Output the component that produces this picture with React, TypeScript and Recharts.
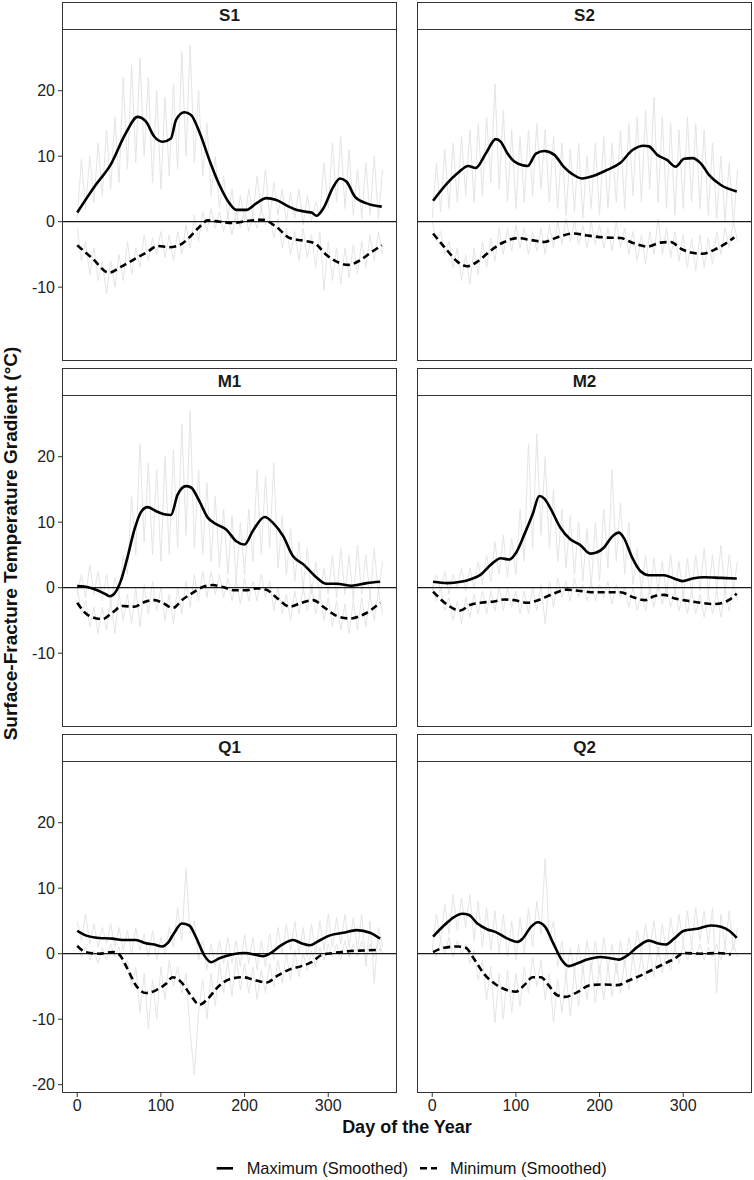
import React from 'react';
import { LineChart, Line, XAxis, YAxis, ReferenceLine } from 'recharts';

// raw daily gradients, read every 5 days off the figure
const rawDays = [
  0, 5, 10, 15, 20, 25, 30, 35, 40, 45, 50, 55, 60, 65, 70, 75, 80, 85, 90, 95,
  100, 105, 110, 115, 120, 125, 130, 135, 140, 145, 150, 155, 160, 165, 170, 175, 180, 185, 190, 195,
  200, 205, 210, 215, 220, 225, 230, 235, 240, 245, 250, 255, 260, 265, 270, 275, 280, 285, 290, 295,
  300, 305, 310, 315, 320, 325, 330, 335, 340, 345, 350, 355, 360, 365,
];

const s1RawMax = [
  0.5, 9.5, 2, 10, 3, 12, 4, 14, 5, 16, 6, 22, 8, 24, 9, 25, 10, 22, 6, 20,
  5, 19, 7, 21, 8, 26, 10, 27, 9, 20, 7, 15, 4, 10, 2, 7, 0.5, 5, -0.5, 4,
  0, 5, 1, 7, 1.5, 8, 0.5, 6, 1, 5, 0, 4.5, 0.5, 5, -0.5, 4, 0, 3, 1, 9,
  2, 12, 3, 13, 2, 11, 1, 8, 0.5, 9, 1, 10, 0.5, 8,
];
const s1RawMin = [
  -1, -6, -3, -8, -4, -9, -6, -11, -6, -10, -5, -9, -3, -8, -4, -7, -2, -6, -2.5, -5,
  -1.5, -5.5, -2, -6, -1.5, -5, -0.5, -4, 1, -3, 1.5, -1.5, 2, -1, 1.5, -1.5, 1, -2, 1.5, -1,
  2, -1.5, 1, -1, 2, -0.5, 1, -2.5, 0.5, -4, -1, -5, -1.5, -6, -1, -5.5, -2, -7, -1.5, -10.5,
  -3, -9, -4, -9.5, -4, -8.5, -3.5, -8, -3, -7, -2, -6, -1.5, -5,
];
const s2RawMax = [
  0.5, 9, 1.5, 11, 2, 12, 3, 13, 4, 14, 3, 15, 4, 16, 6, 21, 5, 17, 3, 14,
  2, 13, 3, 14, 4, 15, 5, 14, 3, 13, 2, 12, 1, 11, 1.5, 12, 0.5, 10, 2, 12,
  1, 13, 2, 12, 3, 14, 2, 15, 4, 16, 3, 17, 5, 19, 3, 16, 2, 15, 1, 14,
  2, 16, 3, 15, 2, 14, 1, 12, 0.5, 10, 0, 9, -0.5, 8,
];
const s2RawMin = [
  0, -3, -1.5, -5, -3, -7, -4, -9, -5, -9.5, -4, -8, -3, -7, -2.5, -6, -1, -5, -1, -4.5,
  -0.5, -4, -1, -5, -1.5, -4.5, -1, -5, -0.5, -4, 0, -3.5, 0.5, -3, 0, -3.5, -0.5, -4, 0, -3.5,
  -0.5, -4, -1, -4.5, 0, -4, -1, -5, -1.5, -6, -2, -6.5, -1.5, -5, 0.5, -5, -1, -5.5, -1.5, -6,
  -2, -7, -2.5, -7.5, -2, -7, -2.5, -6.5, -1.5, -5, -1, -4, 0, -3,
];
const m1RawMax = [
  -1, 2, -1.5, 3.5, -1, 2.5, -2, 2, -2.5, 1.5, -1, 5, 2, 14, 5, 22, 7, 19, 5, 18,
  4, 20, 5, 21, 6, 25, 8, 27, 6, 18, 5, 16, 4, 14, 3, 12, 2, 11, 1, 10,
  2, 12, 4, 18, 5, 17, 6, 19, 3, 11, 2, 9, 1, 7, 0, 6, -1, 4, -1.5, 3,
  -1, 5, -1.5, 6, -1, 5, -2, 6.5, -1, 5, -1.5, 6, -1, 4,
];
const m1RawMin = [
  0, -4, -2, -6, -3, -7, -3, -6.5, -2, -7, -1, -5, -1, -5.5, 0, -6, 0.5, -4, 1, -3.5,
  0, -5, -1, -5.5, 0, -4, 1, -3, 2, -2, 2.5, -1.5, 2.5, -1, 2, -1.5, 1.5, -2, 1, -2.5,
  1.5, -2, 1, -2, 2, -1.5, 1, -3.5, 0, -4, -1, -5, -0.5, -4, 0, -3.5, 0.5, -4, -1, -5,
  -1.5, -6, -2, -6.5, -2.5, -7, -2, -6.5, -1.5, -6, -1, -5, -0.5, -4,
];
const m2RawMax = [
  -0.5, 2, -0.5, 2.5, -1, 2, 0, 3, -0.5, 3, 0, 4, 0.5, 5, 1, 7, 2, 8, 1.5, 7.5,
  2, 12, 4, 22, 6, 23.5, 8, 20, 6, 15, 4, 12, 3, 11, 2, 10, 1, 9, 0, 10,
  1, 12, 3, 18, 4, 13, 2, 10, 0.5, 6, -0.5, 5, -1, 4.5, -0.5, 4, -1, 5, -1, 4,
  -1.5, 4.5, -1, 5, -0.5, 6, -1, 5, -0.5, 6.5, -1, 5, 0, 4,
];
const m2RawMin = [
  0.5, -2, 0, -3.5, -1.5, -5, -2, -5.5, -1.5, -4.5, -1, -4, -0.5, -4, -0.5, -3.5, 0, -3.5, 0, -3,
  -0.5, -4, -0.5, -4, 0, -3.5, 0.5, -5.5, 1, -3, 1.5, -1.5, 1, -2, 1.5, -1.5, 0.5, -2, 1, -2,
  0.5, -1.5, 1, -2.5, 0.5, -1.5, 0, -3, 0, -3.5, -0.5, -3.5, 0, -3, 0.5, -2.5, 0, -3, -0.5, -3.5,
  -0.5, -4, -0.5, -4, -1, -4.5, -1, -4, -0.5, -4.5, -0.5, -3.5, 0.5, -2,
];
const q1RawMax = [
  5, 2, 6, 1.5, 4.5, 1, 4, 1.5, 4.5, 1, 4, 0.5, 3.5, 0, 4, 0.5, 3, -0.5, 3.5, -1,
  2.5, 0, 4, 1, 7, 2, 13, 3, 5, -1, 2, -2.5, 1.5, -2, 2, -1.5, 2.5, -1.5, 2, -2,
  3, -1.5, 2.5, -2.5, 2, -2, 3, -1, 4, 0, 4.5, 0.5, 5, 0, 4, -0.5, 4.5, 0, 5, 0.5,
  6, 1, 5.5, 1.5, 6, 1, 5.5, 0.5, 6, -2, 5, -4.5, 4, 1,
];
const q1RawMin = [
  1.5, -0.5, 1, -1, 0.5, -1.5, 1, -1, 1.5, -0.5, 1, -2, -1, -5, -2, -9, -3, -11.5, -4, -10,
  -2, -7, -1, -5, -2, -6, -3, -12, -18.5, -9, -4, -10, -3, -8, -1.5, -6, -1, -6.5, -0.5, -5.5,
  -1.5, -6, -2, -7, -2.5, -6, -1.5, -5, -1, -4.5, 0, -4, 0.5, -3.5, 0, -2.5, 0.5, -2, 1, -1,
  1.5, -0.5, 1.5, -1, 2, -0.5, 1.5, -0.5, 2, -1, 1.5, -0.5, 2, 0,
];
const q2RawMax = [
  0.5, 6, 2, 7.5, 3, 9, 3.5, 8.5, 4, 9, 2, 8, 1, 7, 0.5, 6.5, 0, 6, -0.5, 5,
  -1, 5.5, 0, 7, 1, 8, 3, 14.5, 2, 5, -2, 2, -3.5, 1, -3, 1.5, -3, 2, -2.5, 2,
  -3, 2.5, -2.5, 1.5, -3, 2, -2, 2.5, -1, 3.5, 0, 4.5, 0.5, 5, -0.5, 4.5, 0, 5.5, 1, 6,
  1.5, 6.5, 1, 7, 2, 6.5, 1.5, 7, -6, 6, 1, 6.5, 0.5, 4,
];
const q2RawMin = [
  1, -0.5, 2, 0, 2.5, -0.5, 2, 0, 1.5, -1.5, 0.5, -4, -1, -7, -2, -10.5, -3, -10, -2.5, -9,
  -3, -8, -2, -6, -0.5, -5, -1, -7, -3, -10.5, -4, -9, -3, -9.5, -2.5, -8, -2, -7, -1.5, -7.5,
  -2, -7, -2, -6.5, -1.5, -6, -1, -5.5, 0, -4.5, 0, -4, 0.5, -3.5, 1, -3, 0.5, -2.5, 1, -1.5,
  1.5, -1, 1, -0.5, 1.5, -1, 1, -0.5, 1.5, -1, 1, -0.5, 1.5, -0.5,
];

// smoothed curves
const s1MaxDays = [0, 22, 40, 58, 72, 82, 92, 102, 112, 118, 128, 136, 146, 158, 170, 182, 190, 202, 214, 226, 238, 250, 260, 274, 280, 286, 294, 306, 314, 322, 332, 346, 364];
const s1Max = [1.4, 5.6, 8.7, 13.5, 16.0, 15.3, 13.0, 12.2, 12.7, 15.5, 16.7, 16.3, 13.7, 9.4, 5.6, 2.8, 1.8, 1.8, 2.8, 3.6, 3.3, 2.5, 1.9, 1.5, 1.4, 0.9, 2.0, 5.3, 6.6, 6.1, 3.8, 2.8, 2.3];
const s1MinDays = [0, 18, 38, 52, 70, 84, 96, 110, 122, 134, 146, 156, 170, 186, 202, 222, 238, 254, 270, 284, 298, 310, 324, 338, 350, 364];
const s1Min = [-3.6, -5.6, -7.8, -6.9, -5.6, -4.6, -3.7, -3.9, -3.6, -2.4, -0.8, 0.2, 0.0, -0.2, 0.1, 0.3, -0.8, -2.5, -2.9, -3.3, -5.1, -6.1, -6.6, -5.9, -4.8, -3.6];

const s2MaxDays = [1, 18, 32, 43, 52, 64, 76, 82, 90, 98, 114, 124, 134, 146, 157, 167, 179, 193, 209, 225, 239, 253, 259, 269, 281, 291, 301, 311, 321, 331, 345, 364];
const s2Max = [3.2, 5.9, 7.6, 8.5, 8.2, 10.4, 12.6, 12.2, 10.4, 9.2, 8.5, 10.4, 10.8, 10.2, 8.4, 7.3, 6.6, 7.0, 7.9, 9.0, 10.9, 11.6, 11.5, 10.2, 9.4, 8.4, 9.6, 9.7, 8.9, 7.1, 5.6, 4.6];
const s2MinDays = [1, 18, 30, 42, 54, 70, 86, 102, 118, 134, 149, 169, 185, 205, 225, 241, 257, 273, 285, 297, 309, 323, 337, 351, 361];
const s2Min = [-1.8, -4.4, -6.1, -6.8, -6.1, -4.4, -3.1, -2.5, -2.8, -3.1, -2.4, -1.8, -2.1, -2.4, -2.5, -3.3, -3.8, -3.2, -3.1, -4.1, -4.7, -4.9, -4.3, -3.3, -2.4];

const m1MaxDays = [0, 10, 24, 34, 39, 45, 52, 60, 68, 76, 84, 94, 104, 112, 120, 130, 136, 146, 156, 166, 178, 190, 200, 210, 224, 234, 246, 258, 270, 284, 298, 310, 328, 346, 362];
const m1Max = [0.25, 0.15, -0.4, -1.0, -1.3, -0.8, 1.0, 4.6, 8.7, 11.5, 12.3, 11.7, 11.2, 11.1, 14.2, 15.5, 15.3, 13.2, 10.7, 9.7, 8.9, 7.1, 6.6, 8.7, 10.8, 9.9, 7.9, 4.8, 3.6, 1.8, 0.6, 0.6, 0.3, 0.7, 0.9];
const m1MinDays = [0, 12, 30, 42, 54, 68, 82, 92, 102, 114, 126, 138, 150, 162, 174, 188, 202, 214, 226, 238, 254, 268, 282, 296, 310, 326, 342, 362];
const m1Min = [-2.3, -4.1, -4.8, -3.8, -2.8, -2.9, -2.1, -1.9, -2.3, -3.1, -1.8, -0.8, 0.1, 0.4, 0.1, -0.4, -0.4, -0.1, -0.3, -1.5, -2.9, -2.3, -1.9, -3.1, -4.3, -4.7, -4.1, -2.3];

const m2MaxDays = [1, 18, 34, 46, 58, 70, 82, 92, 100, 110, 120, 128, 134, 141, 153, 165, 177, 189, 197, 205, 215, 223, 229, 239, 249, 259, 277, 289, 299, 311, 325, 345, 364];
const m2Max = [0.9, 0.7, 0.9, 1.3, 2.0, 3.5, 4.5, 4.3, 5.3, 8.1, 11.2, 14.0, 13.6, 12.2, 9.2, 7.4, 6.5, 5.2, 5.4, 6.1, 7.8, 8.4, 7.6, 4.6, 2.5, 1.9, 1.9, 1.4, 1.0, 1.4, 1.6, 1.5, 1.4];
const m2MinDays = [1, 18, 33, 46, 58, 74, 86, 98, 114, 129, 145, 161, 177, 193, 209, 225, 241, 255, 265, 277, 289, 305, 321, 337, 353, 364];
const m2Min = [-0.6, -2.6, -3.5, -2.6, -2.3, -2.1, -1.8, -1.9, -2.3, -1.8, -0.9, -0.3, -0.5, -0.7, -0.7, -0.7, -1.5, -1.9, -1.3, -1.1, -1.6, -2.0, -2.3, -2.5, -2.0, -0.9];

const q1MaxDays = [0, 10, 26, 42, 54, 70, 82, 92, 102, 108, 116, 125, 134, 142, 152, 160, 170, 186, 200, 214, 222, 230, 244, 258, 268, 278, 288, 302, 318, 334, 350, 362];
const q1Max = [3.5, 2.8, 2.4, 2.3, 2.1, 2.1, 1.6, 1.4, 1.1, 1.6, 3.2, 4.6, 4.3, 2.5, -0.3, -1.3, -0.7, -0.1, 0.1, -0.2, -0.4, 0.0, 1.3, 2.1, 1.6, 1.3, 1.9, 2.8, 3.2, 3.6, 3.2, 2.3];
const q1MinDays = [0, 10, 26, 42, 50, 60, 70, 82, 94, 106, 114, 124, 136, 146, 156, 168, 182, 198, 214, 226, 240, 254, 268, 280, 292, 306, 326, 346, 362];
const q1Min = [1.2, 0.25, 0.0, 0.25, -0.1, -2.3, -4.8, -6.0, -5.6, -4.6, -3.6, -4.3, -6.4, -7.8, -6.9, -5.1, -3.9, -3.6, -4.1, -4.4, -3.3, -2.4, -1.9, -1.3, -0.2, 0.1, 0.4, 0.5, 0.6];

const q2MaxDays = [1, 14, 26, 36, 44, 54, 66, 76, 90, 102, 108, 118, 126, 135, 145, 155, 163, 173, 185, 201, 213, 223, 233, 245, 259, 269, 279, 289, 301, 317, 333, 345, 355, 364];
const q2Max = [2.6, 4.3, 5.6, 6.1, 5.9, 4.6, 3.7, 3.3, 2.3, 1.8, 2.3, 4.1, 4.8, 4.1, 1.5, -1.0, -1.9, -1.5, -0.9, -0.5, -0.7, -0.9, -0.3, 1.0, 2.0, 1.6, 1.4, 2.3, 3.5, 3.8, 4.3, 4.1, 3.5, 2.4];
const q2MinDays = [1, 14, 30, 40, 50, 62, 76, 88, 100, 110, 120, 130, 139, 149, 159, 173, 189, 205, 221, 235, 253, 273, 289, 301, 321, 341, 357];
const q2Min = [0.25, 0.9, 1.1, 0.9, -0.8, -3.1, -4.7, -5.5, -5.8, -4.8, -3.6, -3.6, -4.8, -6.3, -6.6, -5.9, -4.8, -4.7, -4.8, -4.1, -3.1, -1.8, -0.8, 0.1, 0.0, 0.1, -0.1];

const sites = ['S1', 'S2', 'M1', 'M2', 'Q1', 'Q2'];
const xTicks = [0, 100, 200, 300];
const yTicks = [-20, -10, 0, 10, 20];

const FONT = '"Liberation Sans", Arial, Helvetica, sans-serif';
const PANEL_W = 335;
const PANEL_H = 332;
const STRIP_H = 27;
const COL_LEFT = [62, 417];
const ROW_TOP = [2, 368, 734];

const zip = (days: number[], vals: number[]) => days.map((d, i) => ({ day: d, v: vals[i] }));
const rawRows = (mx: number[], mn: number[]) => rawDays.map((d, i) => ({ day: d, hi: mx[i], lo: mn[i] }));

const panels = [
  { raw: rawRows(s1RawMax, s1RawMin), max: zip(s1MaxDays, s1Max), min: zip(s1MinDays, s1Min) },
  { raw: rawRows(s2RawMax, s2RawMin), max: zip(s2MaxDays, s2Max), min: zip(s2MinDays, s2Min) },
  { raw: rawRows(m1RawMax, m1RawMin), max: zip(m1MaxDays, m1Max), min: zip(m1MinDays, m1Min) },
  { raw: rawRows(m2RawMax, m2RawMin), max: zip(m2MaxDays, m2Max), min: zip(m2MinDays, m2Min) },
  { raw: rawRows(q1RawMax, q1RawMin), max: zip(q1MaxDays, q1Max), min: zip(q1MinDays, q1Min) },
  { raw: rawRows(q2RawMax, q2RawMin), max: zip(q2MaxDays, q2Max), min: zip(q2MinDays, q2Min) },
];

function Panel({ idx }: { idx: number }) {
  const col = idx % 2;
  const row = Math.floor(idx / 2);
  const p = panels[idx];
  const yW = col === 0 ? 62 : 0;
  const xH = row === 2 ? 30 : 0;
  const left = COL_LEFT[col] - yW;
  const top = ROW_TOP[row] + STRIP_H;
  return (
    <>
      <div style={{ position: 'absolute', left, top }}>
        <LineChart width={PANEL_W + yW} height={PANEL_H + xH} margin={{ top: 0, right: 0, bottom: 0, left: 0 }}>
          <XAxis
            type="number"
            dataKey="day"
            domain={[-18.2, 382.2]}
            allowDataOverflow
            ticks={xTicks}
            hide={row !== 2}
            height={xH}
            axisLine={false}
            tickSize={4}
            tickMargin={3}
            tickLine={{ stroke: '#333' }}
            tick={{ fontSize: 16, fill: '#222' }}
          />
          <YAxis
            type="number"
            domain={[-21.27, 29.42]}
            allowDataOverflow
            ticks={yTicks}
            hide={col !== 0}
            width={yW}
            axisLine={false}
            tickSize={4}
            tickMargin={3}
            tickLine={{ stroke: '#333' }}
            tick={{ fontSize: 16, fill: '#222' }}
          />
          <Line data={p.raw} dataKey="hi" type="linear" stroke="#e5e5e5" strokeWidth={1} dot={false} isAnimationActive={false} />
          <Line data={p.raw} dataKey="lo" type="linear" stroke="#e5e5e5" strokeWidth={1} dot={false} isAnimationActive={false} />
          <ReferenceLine y={0} stroke="#1a1a1a" strokeWidth={1.2} />
          <Line data={p.min} dataKey="v" type="monotone" stroke="#000" strokeWidth={2.6} strokeDasharray="7 4" dot={false} isAnimationActive={false} />
          <Line data={p.max} dataKey="v" type="monotone" stroke="#000" strokeWidth={2.6} dot={false} isAnimationActive={false} />
        </LineChart>
      </div>
      <div
        style={{
          position: 'absolute', left: COL_LEFT[col], top, width: PANEL_W, height: PANEL_H,
          border: '1px solid #333', boxSizing: 'border-box', pointerEvents: 'none',
        }}
      />
      <div
        style={{
          position: 'absolute', left: COL_LEFT[col], top: ROW_TOP[row], width: PANEL_W, height: STRIP_H + 1,
          border: '1px solid #333', boxSizing: 'border-box', background: '#fff',
          fontWeight: 'bold', fontSize: 17, textAlign: 'center', lineHeight: `${STRIP_H - 1}px`, color: '#1a1a1a',
        }}
      >
        {sites[idx]}
      </div>
    </>
  );
}

export default function App() {
  return (
    <div style={{ position: 'absolute', left: 0, top: 0, width: 754, height: 1180, background: '#fff', fontFamily: FONT }}>
      {sites.map((s, i) => <Panel key={s} idx={i} />)}
      <svg width={754} height={1180} style={{ position: 'absolute', left: 0, top: 0, pointerEvents: 'none' }}>
        <text x={407} y={1133} textAnchor="middle" fontSize={18} fontWeight="bold" fill="#111">Day of the Year</text>
        <text x={17} y={543.5} textAnchor="middle" fontSize={19} fontWeight="bold" fill="#111" transform="rotate(-90 17 543.5)">
          Surface-Fracture Temperature Gradient (°C)
        </text>
        <line x1={216.7} y1={1168.3} x2={233} y2={1168.3} stroke="#000" strokeWidth={2.6} />
        <text x={246.7} y={1174} fontSize={16.4} fill="#111">Maximum (Smoothed)</text>
        <line x1={420} y1={1168.3} x2={437} y2={1168.3} stroke="#000" strokeWidth={2.6} strokeDasharray="7 4" />
        <text x={450} y={1174} fontSize={16.4} fill="#111">Minimum (Smoothed)</text>
      </svg>
    </div>
  );
}
